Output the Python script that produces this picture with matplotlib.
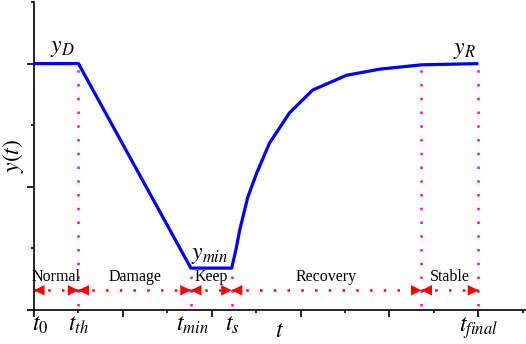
import matplotlib
matplotlib.use("Agg")
import matplotlib.pyplot as plt
from matplotlib.ticker import MultipleLocator

plt.rcParams['font.family'] = ['Liberation Serif', 'DejaVu Serif']
plt.rcParams['mathtext.fontset'] = 'stix'

# key times
t0, t_th, t_min, t_s, t_st, t_final = 0, 1.0, 3.53, 4.45, 8.72, 10.0
y_D, y_min = 4.0, 0.68

# performance curve y(t)
curve_t = [0, 1.0, 3.53, 4.45, 4.55, 4.63, 4.81, 5.01, 5.30, 5.75, 6.27, 7.03, 7.78, 8.72, 10.0]
curve_y = [4.0, 4.0, 0.68, 0.68, 1.00, 1.30, 1.83, 2.22, 2.71, 3.20, 3.57, 3.81, 3.91, 3.98, 4.0]

# vertical guides (x, top y)
guide_x = [t_th, t_min, t_s, t_st, t_final]
guide_top = [4.0, 0.68, 0.68, 3.98, 4.0]

# phases
phase_names = ['Normal', 'Damage', 'Keep', 'Recovery', 'Stable']
phase_bounds = [t0, t_th, t_min, t_s, t_st, t_final]
arrow_y = 0.32
phase_label_y = 0.54

tick_names = ['$t_0$', '$t_{th}$', '$t_{min}$', '$t_s$', '$t_{final}$']
tick_pos = [0.15, 1.0, 3.57, 4.47, 10.0]

fig = plt.figure(figsize=(5.26, 3.44), dpi=100)
ax = fig.add_axes([34/526, 34/344, (525-34)/526, (310-2)/344])

ax.plot(curve_t, curve_y, color='#0000ff', lw=2.3, solid_capstyle='butt',
        solid_joinstyle='round', zorder=3)

for x, top in zip(guide_x, guide_top):
    ax.plot([x, x], [0.06, top], color='#ff00ff', lw=1.8, linestyle=(0, (1, 4.5)), zorder=2)

for i in range(len(phase_names)):
    a, b = phase_bounds[i], phase_bounds[i + 1]
    ax.plot([a, b], [arrow_y, arrow_y], color='red', lw=1.8, linestyle=(0, (1, 4.5)))
    ax.annotate('', xy=(b, arrow_y), xytext=(a, arrow_y),
                arrowprops=dict(arrowstyle='<|-|>', color='red', lw=0,
                                mutation_scale=19, shrinkA=0, shrinkB=0))
    ax.text((a + b) / 2, phase_label_y, phase_names[i], ha='center', va='center', fontsize=11.5)

ax.text(0.63, 4.25, '$y_D$', ha='center', va='center', fontsize=17)
ax.text(3.96, 0.89, '$y_{min}$', ha='center', va='center', fontsize=17)
ax.text(9.69, 4.22, '$y_R$', ha='center', va='center', fontsize=17)

for name, x in zip(tick_names, tick_pos):
    ax.text(x, -0.08, name, ha='center', va='top', fontsize=17)

ax.set_xlim(0, 11.05)
ax.set_ylim(0, 5)
ax.xaxis.set_major_locator(MultipleLocator(2))
ax.xaxis.set_minor_locator(MultipleLocator(1))
ax.yaxis.set_major_locator(MultipleLocator(2))
ax.yaxis.set_minor_locator(MultipleLocator(1))
ax.tick_params(which='major', direction='out', length=5, width=1.2, labelbottom=False, labelleft=False)
ax.tick_params(which='minor', direction='out', length=2.5, width=1.2)
for s in ['top', 'right']:
    ax.spines[s].set_visible(False)
for s in ['left', 'bottom']:
    ax.spines[s].set_linewidth(1.2)

ax.set_xlabel('$t$', fontsize=17, labelpad=2)
ax.set_ylabel('$y(t)$', fontsize=17, labelpad=0)

fig.savefig('out.png', dpi=100)
